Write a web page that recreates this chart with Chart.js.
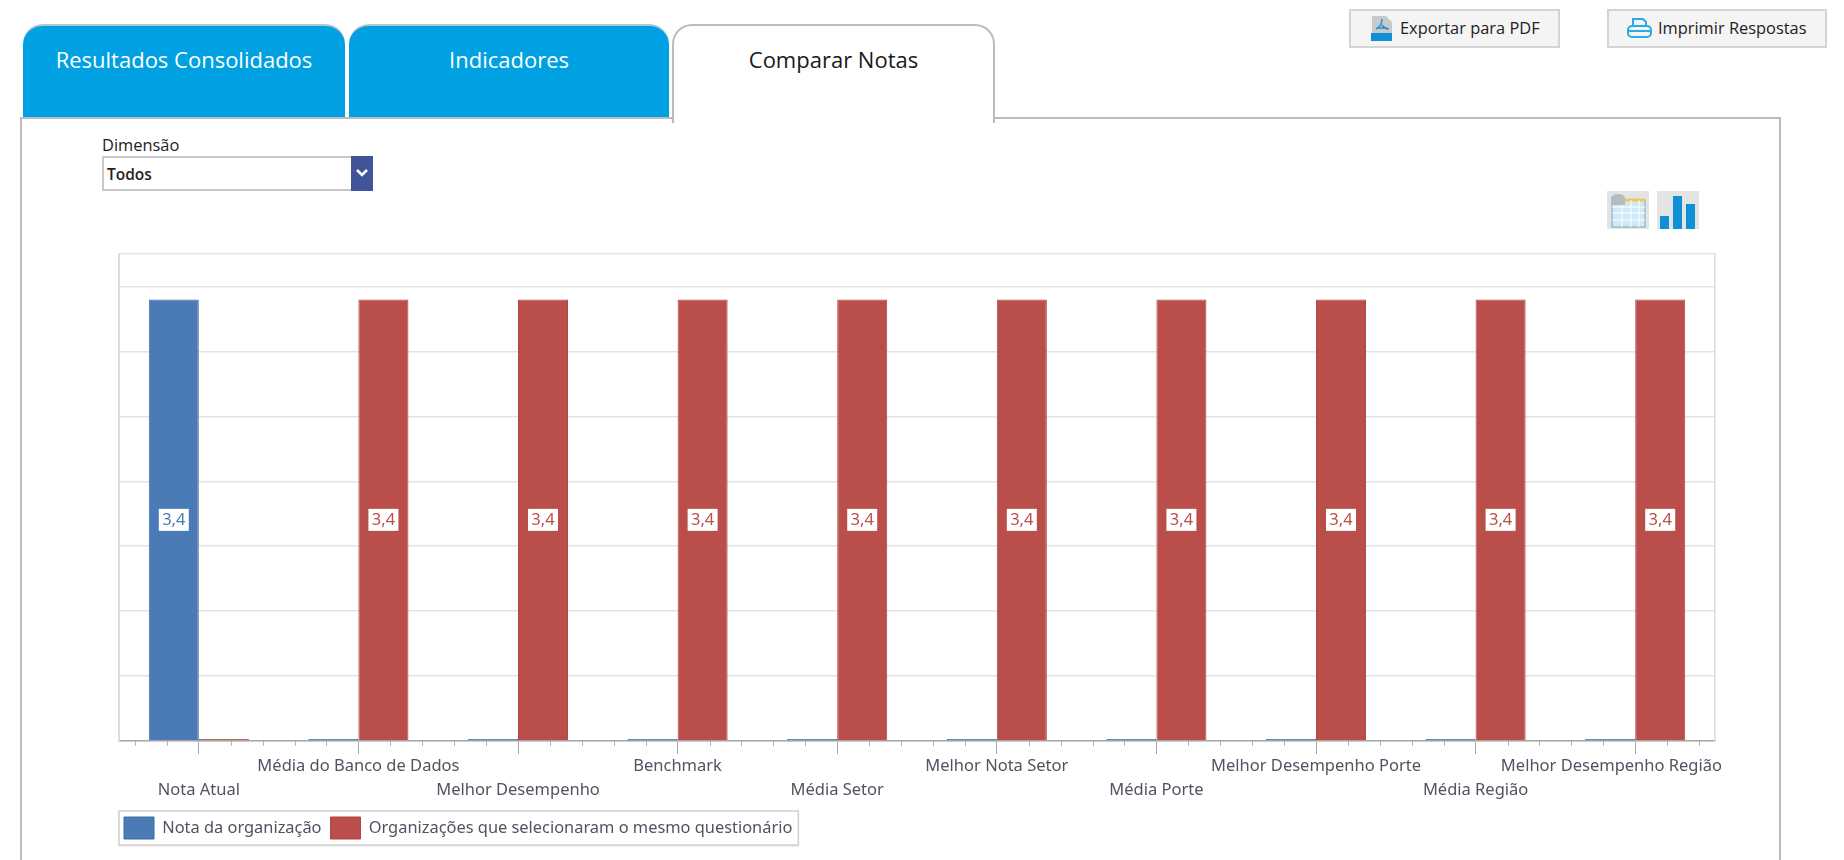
<!DOCTYPE html>
<html lang="pt-BR">
<head>
<meta charset="utf-8">
<title>Comparar Notas</title>
<script src="https://cdn.jsdelivr.net/npm/chart.js@4"></script>
<style>
html,body{margin:0;padding:0;background:#fff;width:1844px;height:860px;overflow:hidden;font-family:"Open Sans","Noto Sans",sans-serif}
body{filter:blur(.5px)}
.abs{position:absolute;box-sizing:border-box}
.panel{left:20px;top:117px;width:1761px;height:760px;border:2px solid #bcbcbc;background:#fff}
.tab{top:24px;height:93px;border-radius:20px 20px 0 0;background:#00a1e2;border-top:2px solid #b7c4cc;color:#fff;font-size:22px;text-align:center;line-height:66px}
.tab.on{background:#fff;color:#1a1a1a;border:2px solid #bcbcbc;border-bottom:none;height:99px;line-height:66px}
.lbl{left:102px;top:135px;font-size:16.4px;color:#222;line-height:20px}
.sel{left:102px;top:156px;width:271px;height:35px;border:2px solid #c8c8c8;background:#fff;font-size:15.5px;font-weight:600;color:#222;line-height:32px;padding-left:3px}
.sel i{position:absolute;right:-2px;top:-2px;width:22px;height:35px;background:#3f5499;display:block}
.sel svg{position:absolute;left:3px;top:11px}
.btn{top:9px;height:39px;background:#f4f4f4;border:2px solid #d4d4d4;font-size:16.4px;color:#222;line-height:33px}
.btn span{position:absolute;top:0;white-space:nowrap}
.cv{left:115px;top:240px;width:1665px;height:609px}
</style>
</head>
<body>
<div class="abs panel"></div>
<div class="abs tab" style="left:23px;width:322px">Resultados Consolidados</div>
<div class="abs tab" style="left:349px;width:320px">Indicadores</div>
<div class="abs tab on" style="left:672px;width:323px">Comparar Notas</div>
<div class="abs lbl">Dimensão</div>
<div class="abs sel">Todos<i><svg width="16" height="12" viewBox="0 0 16 12"><path d="M3 3l5 5 5-5" stroke="#fff" stroke-width="2.6" fill="none"/></svg></i></div>
<div class="abs btn" style="left:1349px;width:211px">
  <svg class="abs" style="left:20px;top:5px" width="22" height="25" viewBox="0 0 22 25"><path d="M1 0h14l6 6v12H1z" fill="#c9c9c9"/><path d="M11 3c0 5-2 8-6 10M11 9c2 3 4 4 7 4M6 12h10" stroke="#1b8fd8" stroke-width="1.4" fill="none"/><rect x="0" y="17" width="21" height="8" fill="#0f8fd6"/></svg>
  <span style="left:49px">Exportar para PDF</span></div>
<div class="abs btn" style="left:1607px;width:220px">
  <svg class="abs" style="left:18px;top:6px" width="25" height="22" viewBox="0 0 25 22"><path d="M6 9V2h10l3 3v4" fill="none" stroke="#29a9e8" stroke-width="2"/><rect x="1" y="9" width="23" height="11" rx="4" fill="none" stroke="#29a9e8" stroke-width="2"/><path d="M1 14h23" stroke="#29a9e8" stroke-width="2"/></svg>
  <span style="left:49px">Imprimir Respostas</span></div>
<svg class="abs" style="left:1607px;top:191px" width="42" height="38" viewBox="0 0 42 38"><rect width="42" height="38" fill="#e4e4e4"/><rect x="5" y="9" width="33" height="27" fill="#cfe9f7" stroke="#7fa6bb"/><path d="M5 9h33" stroke="#f0c85a" stroke-width="3"/><path d="M5 16h33M5 22h33M5 29h33M15 9v27M24 9v27M32 9v27" stroke="#fff"/><ellipse cx="11" cy="7" rx="7" ry="4" fill="#b4bcc2"/><rect x="4" y="7" width="14" height="7" fill="#b4bcc2"/></svg>
<svg class="abs" style="left:1657px;top:191px" width="42" height="38" viewBox="0 0 42 38"><rect width="42" height="38" fill="#e4e4e4"/><rect x="3" y="25" width="9" height="13" fill="#0f8fd6"/><rect x="16" y="5" width="9" height="33" fill="#0f8fd6"/><rect x="29" y="13" width="9" height="25" fill="#0f8fd6"/></svg>
<div class="abs cv"><canvas id="c" width="1665" height="609" style="width:1665px;height:609px;display:block"></canvas></div>
<script>
const categories = ["Nota Atual","Média do Banco de Dados","Melhor Desempenho","Benchmark","Média Setor","Melhor Nota Setor","Média Porte","Melhor Desempenho Porte","Média Região","Melhor Desempenho Região"];
const notaOrganizacao = [3.4,0,0,0,0,0,0,0,0,0];
const notaOutras = [0,3.4,3.4,3.4,3.4,3.4,3.4,3.4,3.4,3.4];
const gridValues = [0,0.5,1,1.5,2,2.5,3,3.5,3.75];
const seriesNames = ["Nota da organização","Organizações que selecionaram o mesmo questionário"];
const FONT = '"Noto Sans","Open Sans",sans-serif';
const BLUE = "#4a7bb6", RED = "#b94e4a";

const decorations = {
  id: "decorations",
  beforeDraw(chart) {
    const x = chart.scales.x, ctx = chart.ctx;
    // keep the last tick label inside the plot edge, as the original does
    const items = x.getLabelItems();
    ctx.save();
    ctx.font = "16.5px " + FONT;
    items.forEach(it => {
      const txt = Array.isArray(it.label) ? it.label.join("") : it.label;
      const w = ctx.measureText(txt).width;
      const limit = chart.chartArea.right + 7 - w / 2;
      if (it.options.translation[0] > limit) it.options.translation[0] = limit;
    });
    // legend frame
    const hb = chart.legend.legendHitBoxes;
    if (hb && hb.length) {
      const l = hb[0].left - 5, r = hb[hb.length - 1].left + hb[hb.length - 1].width + 6;
      const t = hb[0].top - 6, h = 34;
      ctx.shadowColor = "rgba(0,0,0,.18)"; ctx.shadowBlur = 2; ctx.shadowOffsetY = 1;
      ctx.fillStyle = "#fff"; ctx.fillRect(l, t, r - l, h);
      ctx.shadowColor = "transparent";
      ctx.strokeStyle = "#cfcfcf"; ctx.lineWidth = 1.5; ctx.strokeRect(l, t, r - l, h);
    }
    ctx.restore();
  },
  afterDatasetsDraw(chart) {
    const ctx = chart.ctx, x = chart.scales.x, bottom = chart.chartArea.bottom;
    ctx.save();
    // minor ticks
    ctx.strokeStyle = "#b4b4b4"; ctx.lineWidth = 1;
    categories.forEach((_, i) => {
      [-0.4, -0.2, 0.2, 0.4].forEach(d => {
        const px = Math.round(x.getPixelForValue(i + d)) + 0.5;
        ctx.beginPath(); ctx.moveTo(px, bottom); ctx.lineTo(px, bottom + 5); ctx.stroke();
      });
    });
    // value labels
    ctx.font = "16.5px " + FONT; ctx.textAlign = "center"; ctx.textBaseline = "middle";
    chart.data.datasets.forEach((ds, di) => {
      chart.getDatasetMeta(di).data.forEach((bar, i) => {
        const v = ds.data[i];
        if (!v) return;
        const cy = (bar.y + bar.base) / 2;
        ctx.fillStyle = "#fff"; ctx.fillRect(bar.x - 15, cy - 11, 30, 22);
        ctx.fillStyle = ds.backgroundColor;
        ctx.fillText(v.toLocaleString("pt-BR"), bar.x, cy);
      });
    });
    ctx.restore();
  }
};

new Chart(document.getElementById("c"), {
  type: "bar",
  data: {
    labels: categories,
    datasets: [
      { label: seriesNames[0], data: notaOrganizacao, backgroundColor: BLUE, borderColor: "#3f6c9f", borderWidth: 1, minBarLength: 2 },
      { label: seriesNames[1], data: notaOutras, backgroundColor: RED, borderColor: "#a94744", borderWidth: 1, minBarLength: 2 }
    ]
  },
  options: {
    responsive: false,
    animation: false,
    events: [],
    devicePixelRatio: 1,
    layout: { padding: { top: 14, right: 65, left: 0, bottom: 0 } },
    datasets: { bar: { barPercentage: 1, categoryPercentage: 0.627 } },
    scales: {
      x: {
        offset: true,
        border: { color: "#a8a8a8", width: 1.5 },
        grid: { offset: false, drawOnChartArea: false, tickLength: 13, tickColor: "#a8a8a8", tickWidth: 1 },
        ticks: {
          autoSkip: false, maxRotation: 0, minRotation: 0, padding: 0,
          color: "#4f5460",
          font: { family: FONT, size: 16.5, lineHeight: 1.45 },
          callback(v, i) { return i % 2 ? [categories[i], ""] : ["", categories[i]]; }
        },
        afterFit(s) { s.height = 67; }
      },
      y: {
        min: 0, max: 3.75,
        afterBuildTicks(s) { s.ticks = gridValues.map(value => ({ value })); },
        afterFit(s) { s.width = 4; },
        border: { color: "#dcdcdc", width: 2 },
        grid: { color: "#e3e3e3", lineWidth: 1.5, drawTicks: false },
        ticks: { display: false }
      },
      y2: {
        position: "right", min: 0, max: 3.75,
        afterFit(s) { s.width = 0; },
        border: { color: "#dcdcdc", width: 1.5 },
        grid: { display: false, drawTicks: false },
        ticks: { display: false }
      }
    },
    plugins: {
      tooltip: { enabled: false },
      legend: {
        position: "bottom", align: "start", onClick: null,
        labels: { boxWidth: 30, boxHeight: 22, padding: 9, color: "#4f5460", font: { family: FONT, size: 16.4 } }
      }
    }
  },
  plugins: [decorations]
});
</script>
</body>
</html>
